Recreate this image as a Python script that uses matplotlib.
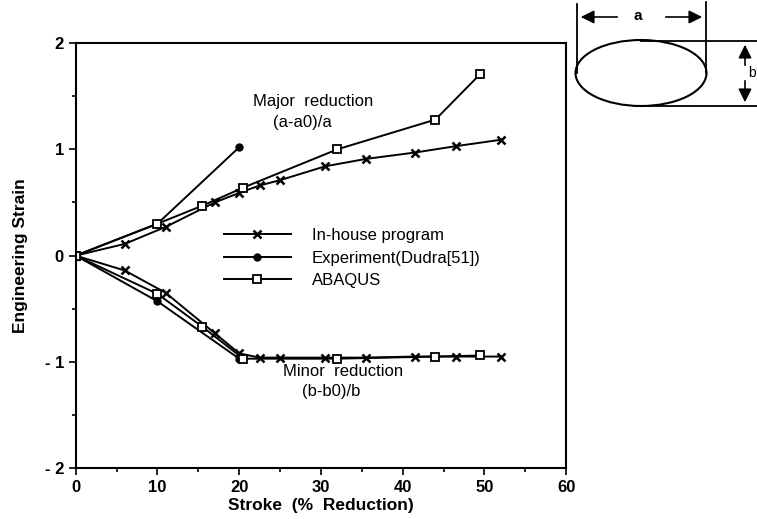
import matplotlib
matplotlib.use("Agg")
import matplotlib.pyplot as plt
from matplotlib.patches import Ellipse

plt.rcParams['font.family'] = ['Liberation Sans', 'DejaVu Sans']

# In-house program (x markers)
inhouse_x = [0, 6, 11, 17, 20, 22.5, 25, 30.5, 35.5, 41.5, 46.5, 52]
inhouse_major = [0, 0.11, 0.27, 0.50, 0.59, 0.66, 0.71, 0.84, 0.91, 0.97, 1.03, 1.09]
inhouse_minor = [0, -0.14, -0.35, -0.73, -0.92, -0.96, -0.96, -0.96, -0.96, -0.95, -0.95, -0.95]

# Experiment (Dudra[51])
exp_x = [0, 10, 20]
exp_major = [0, 0.30, 1.02]
exp_minor = [0, -0.43, -0.97]

# ABAQUS (open squares)
abaqus_x = [0, 10, 15.5, 20.5, 32, 44, 49.5]
abaqus_major = [0, 0.30, 0.47, 0.64, 1.00, 1.28, 1.71]
abaqus_minor = [0, -0.36, -0.67, -0.97, -0.97, -0.95, -0.94]

xticks = [0, 10, 20, 30, 40, 50, 60]
yticks = [-2, -1, 0, 1, 2]
ytick_labels = ['- 2', '- 1', '0', '1', '2']

fig = plt.figure(figsize=(7.57, 5.19), dpi=100)
ax = fig.add_axes([0.100, 0.098, 0.648, 0.819])

lw = 1.4
ih_style = dict(color='black', lw=lw, marker='x', ms=6, mew=1.8)
ex_style = dict(color='black', lw=lw, marker='o', ms=5, mfc='black')
ab_style = dict(color='black', lw=lw, marker='s', ms=6, mfc='white', mew=1.3)

ax.plot(inhouse_x, inhouse_major, label='In-house program', **ih_style)
ax.plot(inhouse_x, inhouse_minor, **ih_style)
ax.plot(exp_x, exp_major, label='Experiment(Dudra[51])', **ex_style)
ax.plot(exp_x, exp_minor, **ex_style)
ax.plot(abaqus_x, abaqus_major, label='ABAQUS', **ab_style)
ax.plot(abaqus_x, abaqus_minor, **ab_style)

ax.set_xlim(0, 60)
ax.set_ylim(-2, 2)
ax.set_xticks(xticks)
ax.set_xticks(range(5, 60, 10), minor=True)
ax.set_yticks(yticks)
ax.set_yticklabels(ytick_labels)
ax.set_yticks([-1.5, -0.5, 0.5, 1.5], minor=True)
ax.tick_params(which='both', direction='out', width=1.2, labelsize=12)
ax.tick_params(which='major', length=5)
ax.tick_params(which='minor', length=3)
for lab in ax.get_xticklabels() + ax.get_yticklabels():
    lab.set_fontweight('bold')
for s in ax.spines.values():
    s.set_linewidth(1.5)

ax.set_xlabel('Stroke  (%  Reduction)', fontsize=12.5, fontweight='bold', labelpad=2)
ax.set_ylabel('Engineering Strain', fontsize=12.5, fontweight='bold', labelpad=12)

ax.text(29.1, 1.45, 'Major  reduction', fontsize=12, ha='center', va='center')
ax.text(27.7, 1.25, '(a-a0)/a', fontsize=12, ha='center', va='center')
ax.text(32.7, -1.09, 'Minor  reduction', fontsize=12, ha='center', va='center')
ax.text(31.3, -1.28, '(b-b0)/b', fontsize=12, ha='center', va='center')

ax.legend(loc='upper left', bbox_to_anchor=(0.272, 0.60), frameon=False,
          fontsize=12, handlelength=4.0, handletextpad=1.25, labelspacing=0.45)

# ellipse sketch in pixel coordinates
ov = fig.add_axes([0, 0, 1, 1], facecolor='none')
ov.set_xlim(0, 757)
ov.set_ylim(519, 0)
ov.axis('off')
ov.add_patch(Ellipse((641, 73), 131, 66, fill=False, ec='black', lw=1.5))
ov.plot([577, 577], [4, 73], color='black', lw=1.3)
ov.plot([706, 706], [2, 73], color='black', lw=1.3)
ov.plot([641, 757], [41, 41], color='black', lw=1.3)
ov.plot([641, 757], [106, 106], color='black', lw=1.3)
arr = dict(arrowstyle='-|>', color='black', lw=1.2, mutation_scale=20)
ov.annotate('', xy=(578, 17), xytext=(620, 17), arrowprops=arr)
ov.annotate('', xy=(705, 17), xytext=(663, 17), arrowprops=arr)
ov.text(638, 16, 'a', fontsize=11, fontweight='bold', ha='center', va='center')
ov.annotate('', xy=(745, 42), xytext=(745, 68), arrowprops=arr)
ov.annotate('', xy=(745, 105), xytext=(745, 78), arrowprops=arr)
ov.text(748, 73, 'b', fontsize=10, ha='left', va='center')

fig.savefig('out.png', dpi=100)
